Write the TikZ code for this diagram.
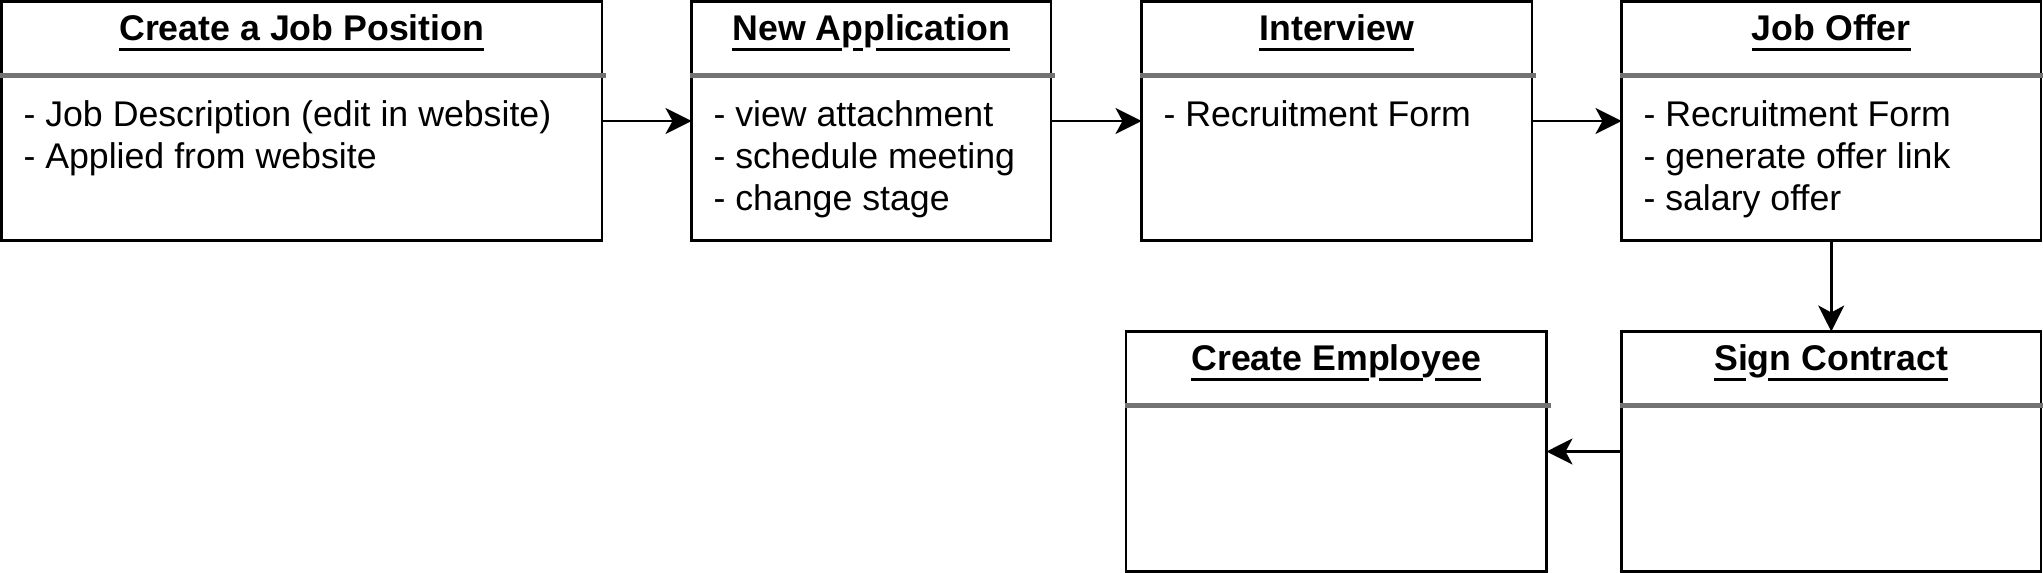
\documentclass[tikz,border=0pt]{standalone}
\usepackage{fontspec}
\setmainfont{Liberation Sans}
\usetikzlibrary{arrows.meta,calc}
\pgfdeclarelayer{background}
\pgfsetlayers{background,main}
\definecolor{sepgray}{RGB}{115,115,115}
% white gap in the underline under a descender (skip-ink look)
\newcommand{\skipink}[3]{\rlap{\color{white}\kern#1\rule[-10.5pt]{#2}{5pt}}#3}
\tikzset{
 umlbox/.style={draw=black, line width=2.7pt, rectangle, inner sep=0pt, outer sep=0pt, anchor=north west},
 ttl/.style={anchor=base, inner sep=0pt, outer sep=0pt, font=\fontsize{35.7pt}{42.3pt}\selectfont\bfseries},
 bodytxt/.style={anchor=base west, inner sep=0pt, outer sep=0pt, font=\fontsize{35.7pt}{42.3pt}\selectfont},
 sepline/.style={draw=sepgray, line width=5pt},
 uline/.style={draw=black, line width=3pt},
 flow/.style={draw=black, line width=2.7pt, -{Stealth[length=26pt,width=26pt,inset=7pt]}},
}
\begin{document}
\begin{tikzpicture}[x=1pt,y=-1pt]
\useasboundingbox (0,0) rectangle (2043,573);
% boxes
\node[umlbox, minimum width=600.5pt, minimum height=239pt] (b1) at (1.5,1.5) {};
\node[umlbox, minimum width=359.5pt, minimum height=239pt] (b2) at (691.5,1.5) {};
\node[umlbox, minimum width=390.5pt, minimum height=239pt] (b3) at (1141.5,1.5) {};
\node[umlbox, minimum width=419.5pt, minimum height=239pt] (b4) at (1621.5,1.5) {};
\node[umlbox, minimum width=419.5pt, minimum height=240pt] (b5) at (1621.5,331.5) {};
\node[umlbox, minimum width=420.5pt, minimum height=240pt] (b6) at (1126,331.5) {};
% separators
\foreach \b in {b1,b2,b3,b4,b5,b6}{
 \draw[sepline] ([shift={(-1.5pt,-74.2pt)}]\b.north west) -- ([shift={(4pt,-74.2pt)}]\b.north east);
}
% titles
\node[ttl] (b1-title) at ([yshift=-39.2pt]b1.north) {Create a Job Position};
\node[ttl] (b2-title) at ([yshift=-39.2pt]b2.north) {New A\skipink{0.5pt}{10.5pt}{p}\skipink{0pt}{12.5pt}{p}lication};
\node[ttl] (b3-title) at ([yshift=-39.2pt]b3.north) {Interview};
\node[ttl] (b4-title) at ([yshift=-39.2pt]b4.north) {Job Offer};
\node[ttl] (b5-title) at ([yshift=-39.2pt]b5.north) {Si\skipink{-1.5pt}{21.5pt}{g}n Contract};
\node[ttl] (b6-title) at ([yshift=-39.2pt]b6.north) {Create Em\skipink{0.5pt}{10.5pt}{p}lo\skipink{1pt}{12.3pt}{y}ee};
\begin{pgfonlayer}{background}
\foreach \t in {b1-title,b2-title,b3-title,b4-title,b5-title,b6-title}{
 \draw[uline] ([yshift=-8.5pt]\t.base west) -- ([yshift=-8.5pt]\t.base east);
}
\end{pgfonlayer}
% bodies
\node[bodytxt] (b1-body) at ([shift={(22pt,-124.5pt)}]b1.north west)
 {\begin{tabular}[t]{@{}l@{}}- Job Description (edit in website)\\- Applied from website\end{tabular}};
\node[bodytxt] (b2-body) at ([shift={(22pt,-124.5pt)}]b2.north west)
 {\begin{tabular}[t]{@{}l@{}}- view attachment\\- schedule meeting\\- change stage\end{tabular}};
\node[bodytxt] (b3-body) at ([shift={(22pt,-124.5pt)}]b3.north west)
 {\begin{tabular}[t]{@{}l@{}}- Recruitment Form\end{tabular}};
\node[bodytxt] (b4-body) at ([shift={(22pt,-124.5pt)}]b4.north west)
 {\begin{tabular}[t]{@{}l@{}}- Recruitment Form\\- generate offer link\\- salary offer\end{tabular}};
% connectors
\draw[flow] (b1.east) -- (b2.west);
\draw[flow] (b2.east) -- (b3.west);
\draw[flow] (b3.east) -- (b4.west);
\draw[flow] (b4.south) -- (b5.north);
\draw[flow] (b5.west) -- (b6.east);
\end{tikzpicture}
\end{document}
